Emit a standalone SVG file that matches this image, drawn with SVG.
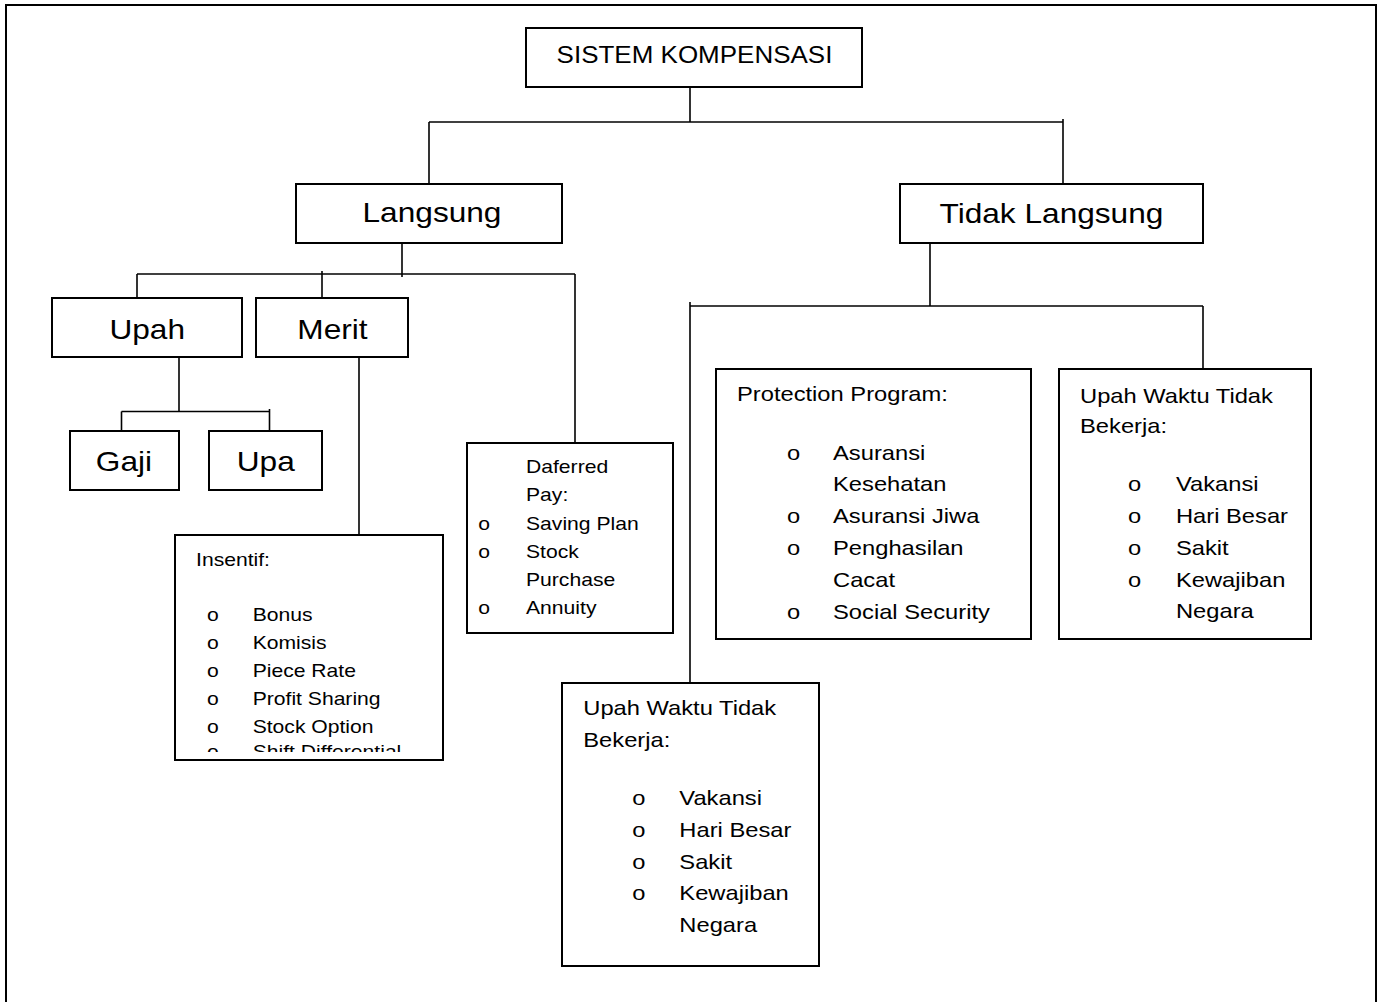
<svg xmlns="http://www.w3.org/2000/svg" width="1381" height="1002" viewBox="0 0 1381 1002">
<style>
.box{fill:#fff;stroke:#000;stroke-width:2}
.ln{fill:none;stroke:#000;stroke-width:1.6}
text{font-family:"Liberation Sans",Arial,sans-serif;fill:#000}
.big{font-size:28px;text-anchor:middle}
.ttl{font-size:23px;text-anchor:middle}
.md{font-size:21px}
.sm{font-size:18.7px}
</style>
<defs>
<clipPath id="clipIns"><rect x="176" y="536" width="266" height="216"/></clipPath>
</defs>
<rect x="0" y="0" width="1381" height="1002" fill="#fff"/>
<path d="M6,1010 V5 H1376 V1010" fill="none" stroke="#000" stroke-width="2"/>

<g id="connectors" class="ln">
<path d="M690,87 V122"/>
<path d="M429,122 H1063"/>
<path d="M429,122 V184"/>
<path d="M1063,119 V184"/>
<path d="M402,243 V277"/>
<path d="M137,274 H575"/>
<path d="M137,274 V298"/>
<path d="M322,271 V298"/>
<path d="M575,274 V443"/>
<path d="M179,357 V411.5"/>
<path d="M121.5,411.5 H269.5"/>
<path d="M121.5,411.5 V431"/>
<path d="M269.5,409 V431"/>
<path d="M359,357 V535"/>
<path d="M930,243 V306"/>
<path d="M690,306 H1203"/>
<path d="M1203,306 V369"/>
<path d="M690,302 V683"/>
</g>

<g id="n-sistem">
<rect class="box" x="526" y="28" width="336" height="59"/>
<g transform="scale(1.13,1)"><text class="ttl" x="614.6" y="63">SISTEM KOMPENSASI</text></g>
</g>

<g id="n-langsung">
<rect class="box" x="296" y="184" width="266" height="59"/>
<g transform="scale(1.13,1)"><text class="big" x="382.3" y="222.5">Langsung</text></g>
</g>

<g id="n-tidak-langsung">
<rect class="box" x="900" y="184" width="303" height="59"/>
<g transform="scale(1.13,1)"><text class="big" x="930.5" y="223">Tidak Langsung</text></g>
</g>

<g id="n-upah">
<rect class="box" x="52" y="298" width="190" height="59"/>
<g transform="scale(1.13,1)"><text class="big" x="130.3" y="339.5">Upah</text></g>
</g>

<g id="n-merit">
<rect class="box" x="256" y="298" width="152" height="59"/>
<g transform="scale(1.13,1)"><text class="big" x="294.2" y="339.5">Merit</text></g>
</g>

<g id="n-gaji">
<rect class="box" x="70" y="431" width="109" height="59"/>
<g transform="scale(1.13,1)"><text class="big" x="109.7" y="471.5">Gaji</text></g>
</g>

<g id="n-upa">
<rect class="box" x="209" y="431" width="113" height="59"/>
<g transform="scale(1.13,1)"><text class="big" x="235.2" y="471.5">Upa</text></g>
</g>

<g id="n-insentif">
<rect class="box" x="175" y="535" width="268" height="225"/>
<g clip-path="url(#clipIns)">
<g transform="scale(1.13,1)" class="sm">
<text x="173.5" y="566">Insentif:</text>
<text x="183.2" y="621">o</text><text x="223.6" y="621">Bonus</text>
<text x="183.2" y="649">o</text><text x="223.6" y="649">Komisis</text>
<text x="183.2" y="677">o</text><text x="223.6" y="677">Piece Rate</text>
<text x="183.2" y="705">o</text><text x="223.6" y="705">Profit Sharing</text>
<text x="183.2" y="733">o</text><text x="223.6" y="733">Stock Option</text>
<text x="183.2" y="758.5">o</text><text x="223.6" y="758.5">Shift Differential</text>
</g>
</g>
</g>

<g id="n-daferred">
<rect class="box" x="467" y="443" width="206" height="190"/>
<g transform="scale(1.13,1)" class="sm">
<text x="465.5" y="473">Daferred</text>
<text x="465.5" y="501.5">Pay:</text>
<text x="423.3" y="530">o</text><text x="465.5" y="530">Saving Plan</text>
<text x="423.3" y="558">o</text><text x="465.5" y="558">Stock</text>
<text x="465.5" y="586.5">Purchase</text>
<text x="423.3" y="614.5">o</text><text x="465.5" y="614.5">Annuity</text>
</g>
</g>

<g id="n-protection">
<rect class="box" x="716" y="369" width="315" height="270"/>
<g transform="scale(1.13,1)" class="md">
<text x="652.2" y="401.5">Protection Program:</text>
<text x="696.5" y="460.5">o</text><text x="737.2" y="460.5">Asuransi</text>
<text x="737.2" y="491.5">Kesehatan</text>
<text x="696.5" y="523.5">o</text><text x="737.2" y="523.5">Asuransi Jiwa</text>
<text x="696.5" y="555.5">o</text><text x="737.2" y="555.5">Penghasilan</text>
<text x="737.2" y="587.5">Cacat</text>
<text x="696.5" y="619.5">o</text><text x="737.2" y="619.5">Social Security</text>
</g>
</g>

<g id="n-upah-waktu-kanan">
<rect class="box" x="1059" y="369" width="252" height="270"/>
<g transform="scale(1.13,1)" class="md">
<text x="955.8" y="403">Upah Waktu Tidak</text>
<text x="955.8" y="433">Bekerja:</text>
<text x="998.2" y="491.5">o</text><text x="1040.7" y="491.5">Vakansi</text>
<text x="998.2" y="523.5">o</text><text x="1040.7" y="523.5">Hari Besar</text>
<text x="998.2" y="555">o</text><text x="1040.7" y="555">Sakit</text>
<text x="998.2" y="587">o</text><text x="1040.7" y="587">Kewajiban</text>
<text x="1040.7" y="618.5">Negara</text>
</g>
</g>

<g id="n-upah-waktu-bawah">
<rect class="box" x="562" y="683" width="257" height="283"/>
<g transform="scale(1.13,1)" class="md">
<text x="516.2" y="715">Upah Waktu Tidak</text>
<text x="516.2" y="747">Bekerja:</text>
<text x="559.6" y="805.5">o</text><text x="601.2" y="805.5">Vakansi</text>
<text x="559.6" y="837.5">o</text><text x="601.2" y="837.5">Hari Besar</text>
<text x="559.6" y="869">o</text><text x="601.2" y="869">Sakit</text>
<text x="559.6" y="900.5">o</text><text x="601.2" y="900.5">Kewajiban</text>
<text x="601.2" y="932.5">Negara</text>
</g>
</g>
</svg>
